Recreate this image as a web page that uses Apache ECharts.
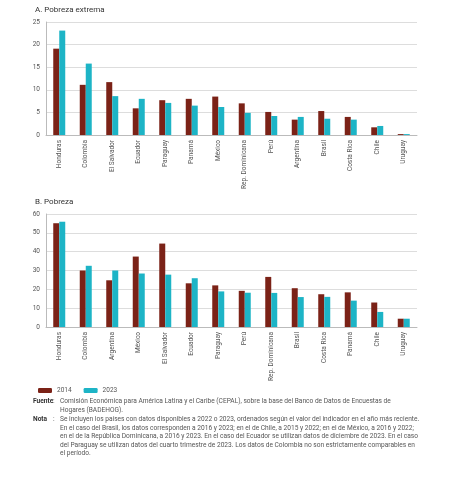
<!DOCTYPE html><html><head><meta charset="utf-8"><script src="https://cdn.jsdelivr.net/npm/echarts@6/dist/echarts.min.js"></script>
<style>body{margin:0;background:#fff}#c{width:474px;height:491px}</style></head><body><div id="c"></div><script>
const catsA=['Honduras','Colombia','El Salvador','Ecuador','Paraguay','Panamá','México','Rep. Dominicana','Perú','Argentina','Brasil','Costa Rica','Chile','Uruguay'];
const a2014=[19.1,11.1,11.7,5.9,7.7,8.0,8.5,7.0,5.1,3.4,5.3,4.0,1.7,0.2];
const a2023=[23.1,15.8,8.6,8.0,7.1,6.5,6.2,4.9,4.2,4.0,3.6,3.4,2.0,0.2];
const catsB=['Honduras','Colombia','Argentina','México','El Salvador','Ecuador','Paraguay','Perú','Rep. Dominicana','Brasil','Costa Rica','Panamá','Chile','Uruguay'];
const b2014=[55.1,30.0,24.8,37.4,44.3,23.2,22.1,19.2,26.6,20.6,17.4,18.4,13.0,4.4];
const b2023=[55.9,32.5,30.0,28.4,27.8,25.9,18.9,18.2,18.1,15.9,16.0,14.0,8.0,4.4];
const C1='#7b2217',C2='#1db4c6',F='Roboto, sans-serif',G='#555';
const fuente=['Comisión Económica para América Latina y el Caribe (CEPAL), sobre la base del Banco de Datos de Encuestas de','Hogares (BADEHOG).'];
const nota=['Se incluyen los países con datos disponibles a 2022 o 2023, ordenados según el valor del indicador en el año más reciente.','En el caso del Brasil, los datos corresponden a 2016 y 2023; en el de Chile, a 2015 y 2022; en el de México, a 2016 y 2022;','en el de la República Dominicana, a 2016 y 2023. En el caso del Ecuador se utilizan datos de diciembre de 2023. En el caso','del Paraguay se utilizan datos del cuarto trimestre de 2023. Los datos de Colombia no son estrictamente comparables en','el período.'];
const ch=echarts.init(document.getElementById('c'));
function xa(i,cats){return {type:'category',gridIndex:i,data:cats,axisTick:{show:false},axisLine:{lineStyle:{color:'#bbb'}},axisLabel:{rotate:90,fontSize:6.5,color:G,fontFamily:F,interval:0,margin:5}};}
function ya(i,max,int){return {type:'value',gridIndex:i,min:0,max:max,interval:int,axisLine:{show:true,lineStyle:{color:'#bbb'}},splitLine:{lineStyle:{color:'#ddd'}},axisLabel:{fontSize:6.5,color:G,fontFamily:F,margin:6}};}
function s(name,d,i,c){return {name:name,type:'bar',xAxisIndex:i,yAxisIndex:i,data:d,barWidth:6,barGap:'0%',itemStyle:{color:c}};}
const lines=[];
fuente.forEach((t,k)=>lines.push({type:'text',left:60,top:398+k*8.5,style:{text:t,fontSize:6.6,fill:G,fontFamily:F}}));
nota.forEach((t,k)=>lines.push({type:'text',left:60,top:416+k*8.5,style:{text:t,fontSize:6.6,fill:G,fontFamily:F}}));
lines.push({type:'text',left:33,top:398,style:{text:'Fuente',fontSize:6.6,fill:'#333',fontWeight:'bold',fontFamily:F}});
lines.push({type:'text',left:33,top:416,style:{text:'Nota',fontSize:6.6,fill:'#333',fontWeight:'bold',fontFamily:F}});
lines.push({type:'text',left:53,top:398,style:{text:':',fontSize:6.6,fill:G,fontFamily:F}});
lines.push({type:'text',left:53,top:416,style:{text:':',fontSize:6.6,fill:G,fontFamily:F}});
ch.setOption({animation:false,
title:[{text:'A. Pobreza extrema',left:30,top:1,textStyle:{fontSize:8,fontWeight:'normal',color:'#333',fontFamily:F}},
{text:'B. Pobreza',left:30,top:193,textStyle:{fontSize:8,fontWeight:'normal',color:'#333',fontFamily:F}}],
legend:{left:33,top:382,itemWidth:14,itemHeight:5,itemGap:12,textStyle:{fontSize:6.5,color:G,fontFamily:F},data:['2014','2023']},
grid:[{left:46,right:57,top:22,height:113},{left:46,right:57,top:214,height:113}],
xAxis:[xa(0,catsA),xa(1,catsB)],yAxis:[ya(0,25,5),ya(1,60,10)],
series:[s('2014',a2014,0,C1),s('2023',a2023,0,C2),s('2014',b2014,1,C1),s('2023',b2023,1,C2)],
graphic:lines});
</script></body></html>
